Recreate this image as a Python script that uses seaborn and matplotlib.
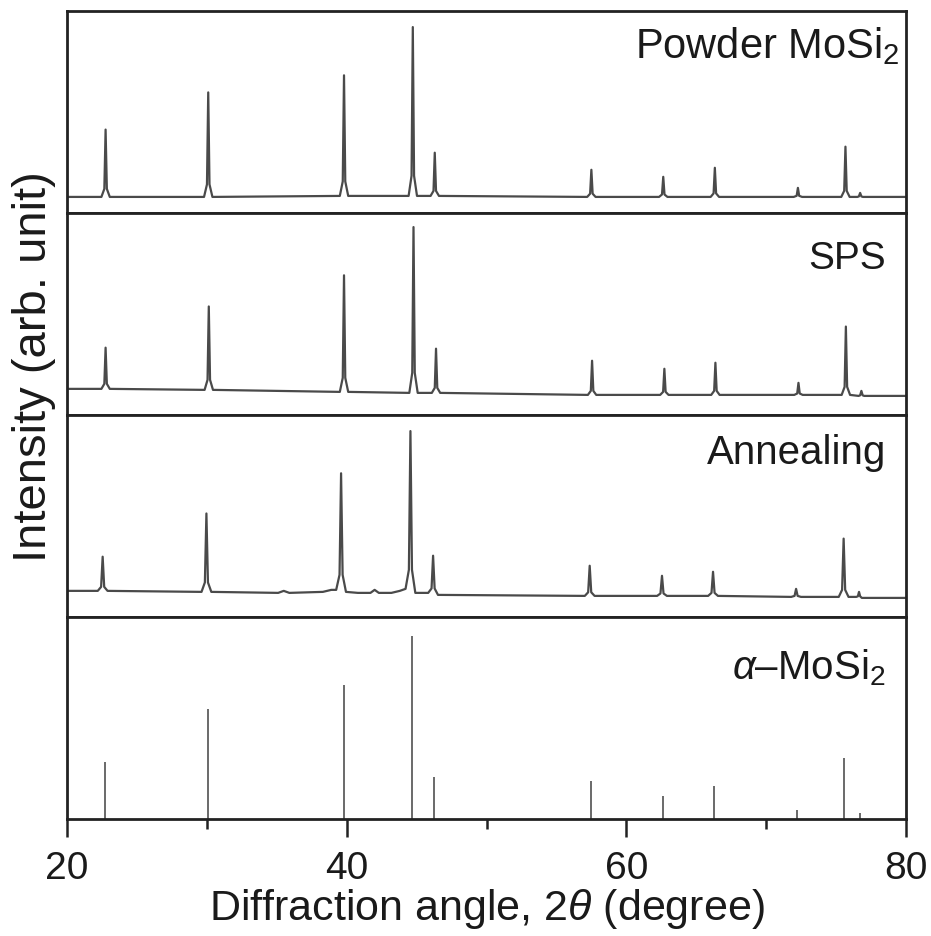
import matplotlib
matplotlib.use("Agg")
import matplotlib.pyplot as plt
from matplotlib import font_manager as fm
from matplotlib.ticker import FixedLocator
import seaborn as sns
import pandas as pd

# ---------------- data ----------------
powder_x = [20,
            22.46, 22.67, 22.76, 22.85, 23.06,
            29.80, 30.01, 30.10, 30.19, 30.40,
            39.51, 39.72, 39.81, 39.90, 40.11,
            44.43, 44.64, 44.73, 44.82, 45.03,
            46.00, 46.21, 46.30, 46.39, 46.60,
            57.20, 57.41, 57.50, 57.59, 57.80,
            62.34, 62.55, 62.64, 62.73, 62.94,
            66.03, 66.24, 66.33, 66.42, 66.63,
            71.97, 72.18, 72.27, 72.36, 72.57,
            75.37, 75.58, 75.67, 75.76, 75.97,
            76.52, 76.63, 76.72, 76.81, 76.92,
            80]
powder_y = [16,
            16, 24, 83, 24, 16,
            16, 28.5, 120, 28.5, 16,
            17, 31.4, 137, 31.4, 17,
            17, 37, 185, 37, 17,
            17, 22, 60, 22, 17,
            16, 19.2, 43, 19.2, 16,
            16, 18.4, 36, 18.4, 16,
            16, 19.5, 45, 19.5, 16,
            16, 17.1, 25, 17.1, 16,
            16, 22, 66, 22, 16,
            16, 16.5, 20, 16.5, 16,
            16]

sps_x = [20,
         22.46, 22.67, 22.76, 22.85, 23.06,
         29.84, 30.05, 30.14, 30.23, 30.44,
         39.51, 39.72, 39.81, 39.90, 40.11,
         44.48, 44.69, 44.78, 44.87, 45.08,
         46.09, 46.30, 46.39, 46.48, 46.69,
         57.25, 57.46, 57.55, 57.64, 57.85,
         62.42, 62.63, 62.72, 62.81, 63.02,
         66.07, 66.28, 66.37, 66.46, 66.67,
         72.01, 72.22, 72.31, 72.40, 72.61,
         75.40, 75.61, 75.70, 75.79, 76.00,
         76.61, 76.72, 76.81, 76.90, 77.01,
         80]
sps_y = [26,
         26, 31, 67, 31, 26,
         25, 35, 108, 35, 25,
         23, 37, 139, 37, 23,
         22, 42, 187, 42, 22,
         22, 27, 66, 27, 22,
         20, 24, 54, 24, 20,
         20, 23, 46, 23, 20,
         20, 24, 52, 24, 20,
         20, 21.4, 32, 21.4, 20,
         20, 28, 88, 28, 20,
         19, 19.6, 24, 19.6, 19,
         19]

anneal_x = [20,
            22.20, 22.44, 22.55, 22.66, 22.90,
            29.62, 29.86, 29.97, 30.08, 30.32,
            35.1, 35.5, 35.9, 38.3, 38.9,
            39.25, 39.49, 39.60, 39.71, 39.95,
            40.8, 41.7, 42.0, 42.3, 43.2, 43.8,
            44.21, 44.45, 44.56, 44.67, 44.91,
            45.83, 46.07, 46.18, 46.29, 46.53,
            57.03, 57.27, 57.38, 57.49, 57.73,
            62.20, 62.44, 62.55, 62.66, 62.90,
            65.85, 66.09, 66.20, 66.31, 66.55,
            71.79, 72.03, 72.14, 72.25, 72.49,
            75.19, 75.43, 75.54, 75.65, 75.89,
            76.44, 76.56, 76.64, 76.72, 76.84,
            80]
anneal_y = [26,
            26, 30, 60, 30, 26,
            25, 34.4, 103, 34.4, 25,
            24, 26, 24, 25, 27,
            27, 42, 143, 42, 25,
            24, 24, 27, 24, 24, 26,
            28, 47, 185, 47, 24,
            24, 28.4, 61, 28.4, 22,
            21, 24.6, 51, 24.6, 21,
            21, 23.4, 41, 23.4, 21,
            21, 24, 45, 24, 21,
            20, 21, 28, 21, 20,
            20, 27, 78, 27, 20,
            20, 20.6, 25, 20.6, 19,
            19]

ref_pos = [22.72, 30.10, 39.81, 44.69, 46.26, 57.50, 62.60, 66.29, 72.19, 75.58, 76.72]
ref_int = [57, 110, 134, 183, 42, 38, 23, 33, 9, 61, 6]

panel_labels = ["Powder MoSi$_2$", "SPS", "Annealing", r"$\alpha$–MoSi$_2$"]
x_ticks = [20, 40, 60, 80]
x_minor = [30, 50, 70]
x_label = r"Diffraction angle, $2\theta$ (degree)"
y_label = "Intensity (arb. unit)"

# ---------------- style ----------------
sns.set_style("white")
names = {f.name for f in fm.fontManager.ttflist}
FONT = "Liberation Sans Narrow" if "Liberation Sans Narrow" in names else "Liberation Sans"
plt.rcParams["font.family"] = [FONT, "DejaVu Sans"]
plt.rcParams["mathtext.fontset"] = "custom"
plt.rcParams["mathtext.rm"] = FONT
plt.rcParams["mathtext.it"] = FONT + ":italic"
plt.rcParams["mathtext.bf"] = FONT + ":bold"

LINE = "#4a4a4a"
FRAME = "#222222"
TEXT = "#1a1a1a"

fig, axes = plt.subplots(4, 1, figsize=(9.31, 9.37), dpi=100, sharex=True,
                         gridspec_kw=dict(hspace=0))
fig.subplots_adjust(left=67 / 931, right=906 / 931, top=1 - 12 / 937, bottom=1 - 820 / 937)

curves = [(powder_x, powder_y), (sps_x, sps_y), (anneal_x, anneal_y)]
for ax, (xs, ys) in zip(axes[:3], curves):
    df = pd.DataFrame({"angle": xs, "intensity": ys})
    sns.lineplot(data=df, x="angle", y="intensity", ax=ax, sort=False, estimator=None,
                 color=LINE, linewidth=1.6)
    ax.set_ylim(0, 201)

axes[3].vlines(ref_pos, 0, ref_int, color="#505050", linewidth=1.2)
axes[3].set_ylim(0, 202)

text_pos = [(0.993, 0.935), (0.976, 0.865), (0.976, 0.912), (0.976, 0.855)]
text_size = [30, 28, 29, 29]
for ax, lab, (tx, ty), fs in zip(axes, panel_labels, text_pos, text_size):
    ax.text(tx, ty, lab, transform=ax.transAxes, ha="right", va="top",
            fontsize=fs, color=TEXT)
    for sp in ax.spines.values():
        sp.set_visible(True)
        sp.set_linewidth(2.0)
        sp.set_color(FRAME)
    ax.set_xlabel("")
    ax.set_ylabel("")
    ax.set_yticks([])
    ax.tick_params(axis="x", which="both", bottom=False, labelbottom=False)

ax = axes[3]
ax.set_xlim(20, 80)
ax.xaxis.set_major_locator(FixedLocator(x_ticks))
ax.xaxis.set_minor_locator(FixedLocator(x_minor))
ax.set_xticklabels([str(t) for t in x_ticks])
ax.tick_params(axis="x", which="major", bottom=True, labelbottom=True, direction="out",
               length=13, width=1.8, color=FRAME, labelsize=28, pad=9, labelcolor=TEXT)
ax.tick_params(axis="x", which="minor", bottom=True, direction="out",
               length=7, width=1.8, color=FRAME)
ax.set_xlabel(x_label, fontsize=31, labelpad=0, color=TEXT)

fig.text(34 / 931, 1 - 562 / 937, y_label, rotation=90, ha="center", va="bottom",
         fontsize=34, color=TEXT)

fig.savefig("out.png", dpi=100, facecolor="white")
